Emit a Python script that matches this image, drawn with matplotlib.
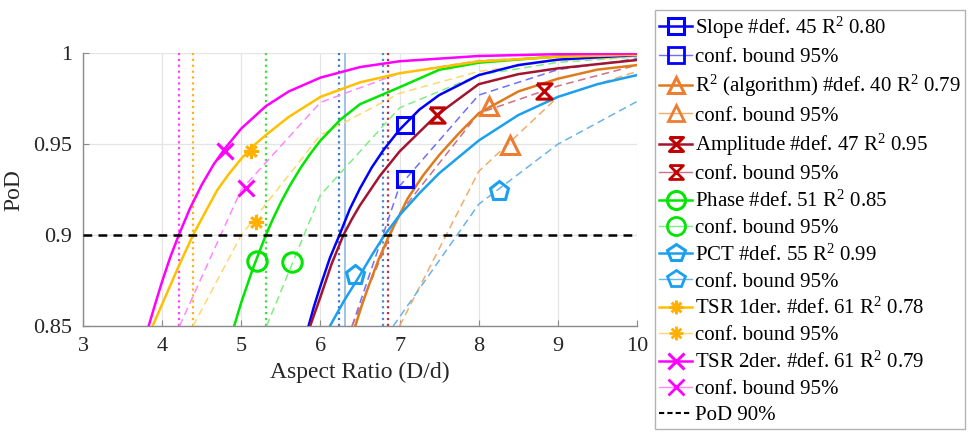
import matplotlib
matplotlib.use('Agg')
import matplotlib.pyplot as plt
from matplotlib.lines import Line2D
from matplotlib.path import Path

plt.rcParams['font.family'] = ['Liberation Serif', 'DejaVu Serif']
plt.rcParams['mathtext.fontset'] = 'custom'
plt.rcParams['mathtext.rm'] = 'Liberation Serif'
plt.rcParams['mathtext.it'] = 'Liberation Serif:italic'

# --- fitted PoD curves ---
slope_x = [5.85, 5.92, 6.0, 6.12, 6.24, 6.37, 6.5, 6.65, 6.8, 7.0, 7.25, 7.5, 8.0, 8.5, 9.0, 10.0]
slope_y = [0.85, 0.861, 0.872, 0.8875, 0.90, 0.9142, 0.9257, 0.9373, 0.947, 0.958, 0.969, 0.977,
           0.988, 0.9935, 0.9965, 0.999]
r2_x = [6.44, 6.52, 6.6, 6.73, 6.87, 7.0, 7.1, 7.3, 7.5, 7.75, 8.0, 8.5, 9.0, 9.5, 10.0]
r2_y = [0.85, 0.861, 0.871, 0.886, 0.90, 0.911, 0.92, 0.933, 0.944, 0.956, 0.967, 0.979, 0.986,
        0.991, 0.9935]
amp_x = [5.87, 6.0, 6.14, 6.29, 6.4, 6.5, 6.75, 7.0, 7.47, 8.0, 8.5, 9.0, 9.5, 10.0]
amp_y = [0.85, 0.866, 0.884, 0.90, 0.909, 0.9164, 0.9325, 0.946, 0.966, 0.983, 0.9885, 0.9917,
         0.994, 0.9963]
phase_x = [4.91, 5.0, 5.15, 5.31, 5.4, 5.5, 5.62, 5.75, 5.87, 6.0, 6.25, 6.5, 7.0, 7.5, 8.0, 9.0, 10.0]
phase_y = [0.85, 0.863, 0.882, 0.90, 0.9089, 0.918, 0.9277, 0.937, 0.9446, 0.952, 0.9634, 0.972,
           0.9813, 0.9909, 0.9948, 0.9983, 0.9994]
pct_x = [6.12, 6.3, 6.5, 6.65, 6.81, 7.0, 7.25, 7.5, 8.0, 8.5, 9.0, 9.5, 10.0]
pct_y = [0.85, 0.864, 0.878, 0.889, 0.90, 0.911, 0.923, 0.934, 0.952, 0.966, 0.976, 0.983, 0.988]
tsr1_x = [3.88, 4.0, 4.1, 4.2, 4.39, 4.55, 4.7, 4.85, 5.0, 5.15, 5.31, 5.6, 6.0, 6.5, 7.0, 8.0, 9.0, 10.0]
tsr1_y = [0.85, 0.862, 0.872, 0.882, 0.90, 0.913, 0.925, 0.934, 0.942, 0.949, 0.955, 0.965, 0.976,
          0.984, 0.989, 0.9955, 0.998, 0.9992]
tsr2_x = [3.83, 3.9, 4.0, 4.1, 4.21, 4.35, 4.5, 4.65, 4.8, 5.0, 5.31, 5.6, 6.0, 6.5, 7.0, 8.0, 9.0, 10.0]
tsr2_y = [0.85, 0.8603, 0.8745, 0.8875, 0.90, 0.9145, 0.9276, 0.9388, 0.948, 0.9586, 0.9709, 0.979,
          0.9866, 0.9924, 0.9956, 0.9985, 0.9995, 0.9998]

# --- 95% confidence bounds ---
slope_cb_x = [6.4, 7, 8, 9, 10]
slope_cb_y = [0.85, 0.927, 0.977, 0.991, 0.997]
r2_cb_x = [7.0, 8, 9, 10]
r2_cb_y = [0.85, 0.935, 0.976, 0.990]
amp_cb_x = [6.4, 7, 8, 9, 10]
amp_cb_y = [0.85, 0.912, 0.967, 0.982, 0.9935]
phase_cb_x = [5.32, 6, 7, 8, 9, 10]
phase_cb_y = [0.85, 0.922, 0.970, 0.988, 0.995, 0.998]
pct_cb_x = [6.92, 8, 9, 10]
pct_cb_y = [0.85, 0.917, 0.950, 0.9735]
tsr1_cb_x = [4.39, 5, 6, 7, 8, 9, 10]
tsr1_cb_y = [0.85, 0.900, 0.955, 0.978, 0.990, 0.996, 0.998]
tsr2_cb_x = [4.22, 5, 6, 7, 8, 9, 10]
tsr2_cb_y = [0.85, 0.925, 0.973, 0.989, 0.996, 0.998, 0.999]

# marker positions: (fit x, fit y, bound x, bound y)
marks = {
    'slope': (7.07, 0.9605, 7.07, 0.931),
    'r2': (8.13, 0.971, 8.40, 0.9496),
    'amp': (7.47, 0.966, 8.82, 0.979),
    'phase': (5.195, 0.886, 5.64, 0.885),
    'pct': (6.44, 0.878, 8.26, 0.9244),
    'tsr1': (5.12, 0.946, 5.18, 0.907),
    'tsr2': (4.80, 0.9465, 5.06, 0.926),
}

labels = ['Slope #def. 45 R$^2$ 0.80',
          'R$^2$ (algorithm) #def. 40 R$^2$ 0.79',
          'Amplitude #def. 47 R$^2$ 0.95',
          'Phase #def. 51 R$^2$ 0.85',
          'PCT #def. 55 R$^2$ 0.99',
          'TSR 1der. #def. 61 R$^2$ 0.78',
          'TSR 2der. #def. 61 R$^2$ 0.79']

# a90 vertical lines
vline_x = [4.21, 4.39, 5.31, 6.23, 6.31, 6.79, 6.86]
vline_c = ['#ff40ff', '#ffb020', '#40e040', '#3a78d0', '#98bde2', '#4a8ad0', '#c03040']
vline_ls = [':', ':', ':', ':', '-', ':', ':']

hourglass = [(-1, 1), (1, 1), (-1, -1), (1, -1), (-1, 1)]
asterisk = Path([(0, -1), (0, 1), (-1, 0), (1, 0), (-0.7, -0.7), (0.7, 0.7), (-0.7, 0.7), (0.7, -0.7)],
                [Path.MOVETO, Path.LINETO] * 4)

series = [
    ('slope', slope_x, slope_y, slope_cb_x, slope_cb_y, '#0000ff', '#6f6fff', '#0000ff', 's', 12),
    ('r2', r2_x, r2_y, r2_cb_x, r2_cb_y, '#df7b1c', '#f2ac6a', '#ed7d31', '^', 13),
    ('amp', amp_x, amp_y, amp_cb_x, amp_cb_y, '#a2142f', '#cc7088', '#c00000', hourglass, 11),
    ('phase', phase_x, phase_y, phase_cb_x, phase_cb_y, '#00e600', '#80ee80', '#00e600', 'o', 14),
    ('pct', pct_x, pct_y, pct_cb_x, pct_cb_y, '#1aa0ee', '#6ab4e6', '#1aa0ee', 'p', 14),
    ('tsr1', tsr1_x, tsr1_y, tsr1_cb_x, tsr1_cb_y, '#ffc000', '#ffd870', '#ffb000', asterisk, 11),
    ('tsr2', tsr2_x, tsr2_y, tsr2_cb_x, tsr2_cb_y, '#ff00ff', '#ff88ff', '#ff00ff', 'x', 12),
]

fig = plt.figure(figsize=(9.76, 4.33), dpi=100)
ax = fig.add_axes([0.085, 0.247, 0.5677, 0.630])

for x, c, ls in zip(vline_x, vline_c, vline_ls):
    ax.plot([x, x], [0.85, 1.0], color=c, ls=ls, lw=1.6 if ls == ':' else 1.3, zorder=1)

handles = []
for (key, fx, fy, cx, cy, col, ccol, mcol, mk, ms), lab in zip(series, labels):
    ax.plot(fx, fy, color=col, lw=1.8, zorder=3)
    ax.plot(cx, cy, color=ccol, lw=1.1, ls=(0, (5, 3)), zorder=2)
    m = marks[key]
    ax.plot(m[0], m[1], ls='none', marker=mk, ms=ms, mfc='none', mec=mcol, mew=2.2, zorder=4)
    ax.plot(m[2], m[3], ls='none', marker=mk, ms=ms, mfc='none', mec=mcol, mew=2.2, zorder=4)
    handles.append(Line2D([], [], color=col, lw=1.8, marker=mk, ms=ms - 1, mfc='none', mec=mcol, mew=2.2))
    handles.append(Line2D([], [], color=ccol, lw=1.0, marker=mk, ms=ms - 1, mfc='none', mec=mcol, mew=2.0))

ax.axhline(0.9, color='black', lw=1.8, ls=(0, (3.5, 2.5)), zorder=5)
handles.append(Line2D([], [], color='black', lw=1.5, ls=(0, (2.5, 1.5))))

leg_labels = []
for lab in labels:
    leg_labels += [lab, 'conf. bound 95%']
leg_labels.append('PoD 90%')

ax.set_xlim(3, 10)
ax.set_ylim(0.85, 1.0)
ax.set_xticks(range(3, 11))
ax.set_yticks([0.85, 0.9, 0.95, 1])
ax.set_yticklabels(['0.85', '0.9', '0.95', '1'])
ax.grid(True, color='#e4e4e4', lw=0.9)
ax.set_axisbelow(True)
for s in ['top', 'right']:
    ax.spines[s].set_visible(False)
for s in ['left', 'bottom']:
    ax.spines[s].set_color('#8a8a8a')
    ax.spines[s].set_linewidth(1.0)
ax.tick_params(direction='in', length=4, color='#8a8a8a', labelsize=16, labelcolor='#262626', pad=8)
ax.set_xlabel('Aspect Ratio (D/d)', fontsize=17, color='#262626', labelpad=4)
ax.set_ylabel('PoD', fontsize=17, color='#262626', labelpad=6)

leg = fig.legend(handles, leg_labels, loc='upper left', bbox_to_anchor=(0.671, 0.976),
                 fontsize=15, handlelength=1.6, handletextpad=0.12, labelspacing=0.31,
                 borderpad=0.2, borderaxespad=0, frameon=True, fancybox=False)
leg.get_frame().set_edgecolor('#a0a0a0')
leg.get_frame().set_linewidth(1.0)

fig.savefig('out.png', dpi=100)
